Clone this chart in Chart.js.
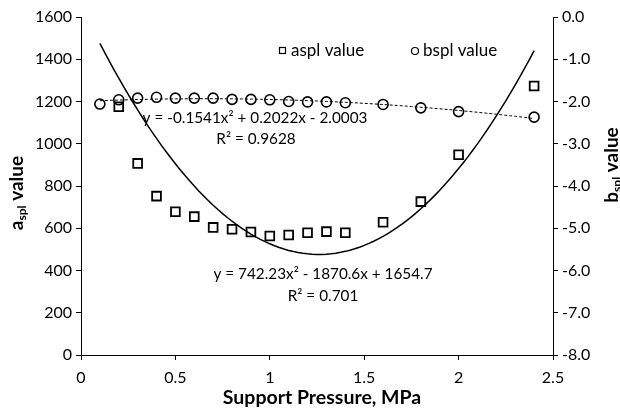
<!DOCTYPE html>
<html>
<head>
<meta charset="utf-8">
<script src="https://cdn.jsdelivr.net/npm/chart.js@4.4.1/dist/chart.umd.min.js"></script>
<style>
  html, body { margin: 0; padding: 0; background: #fff; }
  #wrap { width: 620px; height: 416px; }
</style>
</head>
<body>
<div id="wrap"><canvas id="chart" width="620" height="416"></canvas></div>
<script>
// dados
const FONT = 'Lato, "Open Sans", sans-serif';

const asplPressure = [0.2, 0.3, 0.4, 0.5, 0.6, 0.7, 0.8, 0.9, 1.0, 1.1, 1.2, 1.3, 1.4, 1.6, 1.8, 2.0, 2.4];
const asplValues   = [1175, 907, 752, 678, 655, 604, 595, 582, 563, 568, 579, 584, 579, 628, 726, 948, 1273];

const bsplPressure = [0.1, 0.2, 0.3, 0.4, 0.5, 0.6, 0.7, 0.8, 0.9, 1.0, 1.1, 1.2, 1.3, 1.4, 1.6, 1.8, 2.0, 2.4];
const bsplValues   = [-2.06, -1.96, -1.92, -1.90, -1.92, -1.92, -1.92, -1.95, -1.95, -1.96, -2.00, -2.01, -2.01, -2.03, -2.07, -2.15, -2.24, -2.37];

// coeficientes das linhas de tendência (x², x, const)
const asplTrend = [742.23, -1870.6, 1654.7];
const bsplTrend = [-0.1541, 0.2022, -2.0003];
const trendRange = [0.1, 2.4];

const xTickLabels  = ['0', '0.5', '1', '1.5', '2', '2.5'];
const yTickLabels  = ['0', '200', '400', '600', '800', '1000', '1200', '1400', '1600'];
const y2TickLabels = ['-8.0', '-7.0', '-6.0', '-5.0', '-4.0', '-3.0', '-2.0', '-1.0', '0.0'];

const equations = [
  { text: 'y = -0.1541x² + 0.2022x - 2.0003', x: 255, y: 118 },
  { text: 'R² = 0.9628', x: 256, y: 139 },
  { text: 'y = 742.23x² - 1870.6x + 1654.7', x: 323, y: 274 },
  { text: 'R² = 0.701', x: 323, y: 296 }
];

function toPoints(xs, ys){ return xs.map((x, i) => ({ x, y: ys[i] })); }

function trendPoints(c){
  const pts = [];
  for(let x = trendRange[0]; x <= trendRange[1] + 1e-9; x += 0.025){
    pts.push({ x, y: c[0]*x*x + c[1]*x + c[2] });
  }
  return pts;
}

const textPlugin = {
  id: 'textPlugin',
  afterDraw(chart){
    const ctx = chart.ctx;
    ctx.save();
    ctx.fillStyle = '#000';
    ctx.strokeStyle = '#000';

    // equações
    ctx.font = '15.3px ' + FONT;
    ctx.textAlign = 'center';
    ctx.textBaseline = 'middle';
    equations.forEach(e => ctx.fillText(e.text, e.x, e.y));

    // legenda
    ctx.font = '17px ' + FONT;
    ctx.textAlign = 'left';
    ctx.lineWidth = 1.2;
    ctx.strokeRect(279.5, 47.5, 6, 6);
    ctx.fillText('aspl value', 291, 51);
    ctx.beginPath();
    ctx.arc(415, 51, 3.5, 0, Math.PI * 2);
    ctx.stroke();
    ctx.fillText('bspl value', 423, 51);

    // título do eixo x
    ctx.font = 'bold 19.5px ' + FONT;
    ctx.textAlign = 'center';
    ctx.fillText('Support Pressure, MPa', 322, 398);

    drawSubTitle(ctx, 'a', 'spl', ' value', 17, 193);
    drawSubTitle(ctx, 'b', 'spl', ' value', 612, 165);
    ctx.restore();
  }
};

function drawSubTitle(ctx, main, sub, rest, cx, cy){
  const big = 'bold 19px ' + FONT, small = 'bold 12px ' + FONT;
  ctx.save();
  ctx.translate(cx, cy);
  ctx.rotate(-Math.PI / 2);
  ctx.textAlign = 'left';
  ctx.textBaseline = 'alphabetic';
  ctx.font = big; const w1 = ctx.measureText(main).width, w3 = ctx.measureText(rest).width;
  ctx.font = small; const w2 = ctx.measureText(sub).width;
  let x = -(w1 + w2 + w3) / 2;
  ctx.font = big; ctx.fillText(main, x, 6); x += w1;
  ctx.font = small; ctx.fillText(sub, x, 9); x += w2;
  ctx.font = big; ctx.fillText(rest, x, 6);
  ctx.restore();
}

const axisCommon = {
  grid: { display: true, drawOnChartArea: false, drawTicks: true, tickLength: 5, color: '#000', lineWidth: 1 },
  border: { display: true, color: '#000', width: 1 },
  title: { display: false }
};

const chart = new Chart(document.getElementById('chart'), {
  type: 'scatter',
  data: {
    datasets: [
      {
        label: 'aspl trend',
        data: trendPoints(asplTrend),
        yAxisID: 'y',
        showLine: true,
        borderColor: '#000',
        borderWidth: 1.5,
        pointRadius: 0,
        tension: 0
      },
      {
        label: 'bspl trend',
        data: trendPoints(bsplTrend),
        yAxisID: 'y2',
        showLine: true,
        borderColor: '#000',
        borderWidth: 1,
        borderDash: [3, 2],
        pointRadius: 0,
        tension: 0
      },
      {
        label: 'aspl value',
        data: toPoints(asplPressure, asplValues),
        yAxisID: 'y',
        pointStyle: 'rect',
        pointRadius: 6.2,
        borderColor: '#000',
        backgroundColor: 'rgba(0,0,0,0)',
        borderWidth: 1.8
      },
      {
        label: 'bspl value',
        data: toPoints(bsplPressure, bsplValues),
        yAxisID: 'y2',
        pointStyle: 'circle',
        pointRadius: 5,
        borderColor: '#000',
        backgroundColor: 'rgba(0,0,0,0)',
        borderWidth: 1.6
      }
    ]
  },
  options: {
    responsive: false,
    animation: false,
    devicePixelRatio: 1,
    layout: { padding: { top: 17, left: 0, right: 0, bottom: 0 } },
    plugins: { legend: { display: false }, tooltip: { enabled: false } },
    scales: {
      x: {
        ...axisCommon,
        type: 'linear',
        position: 'bottom',
        min: 0, max: 2.5,
        ticks: { stepSize: 0.5, color: '#000', font: { family: FONT, size: 16 }, padding: 8,
                 callback: (v, i) => xTickLabels[i] },
        afterFit: s => { s.height = 61; }
      },
      y: {
        ...axisCommon,
        position: 'left',
        min: 0, max: 1600,
        ticks: { stepSize: 200, color: '#000', font: { family: FONT, size: 16 }, padding: 4,
                 callback: (v, i) => yTickLabels[i] },
        afterFit: s => { s.width = 81; }
      },
      y2: {
        ...axisCommon,
        position: 'right',
        min: -8, max: 0,
        ticks: { stepSize: 1, color: '#000', font: { family: FONT, size: 16 }, padding: 4,
                 callback: (v, i) => y2TickLabels[i] },
        afterFit: s => { s.width = 67; }
      }
    }
  },
  plugins: [textPlugin]
});
</script>
</body>
</html>
